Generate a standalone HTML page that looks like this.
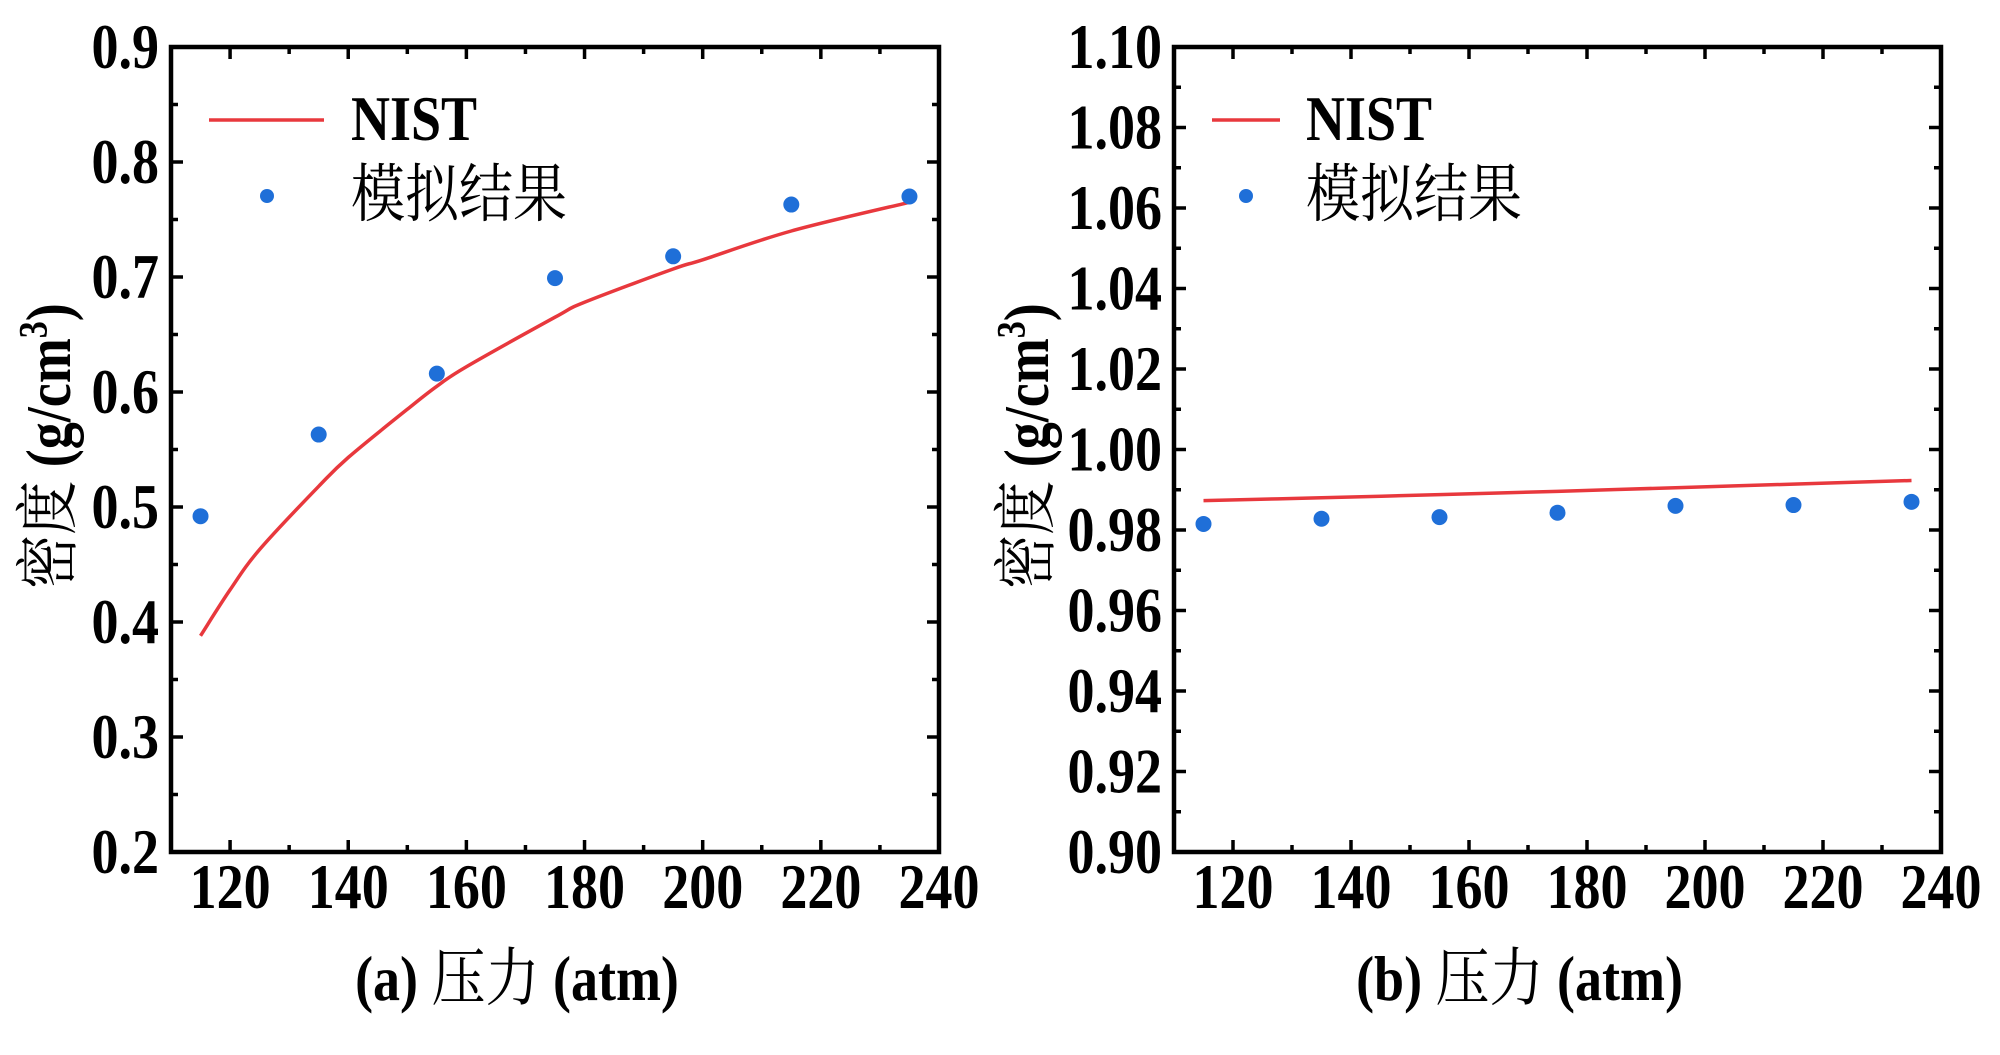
<!DOCTYPE html>
<html><head><meta charset="utf-8"><style>
html,body{margin:0;padding:0;background:#fff;}
svg{display:block;}
.tk{font-family:"Liberation Serif","Noto Serif CJK SC",serif;font-weight:bold;font-size:54px;fill:#000;}
.cj{font-family:"Liberation Serif","Noto Serif CJK SC",serif;font-size:54px;fill:#000;}
</style></head><body>
<svg id="chart" width="2000" height="1055" viewBox="0 0 2000 1055" xmlns="http://www.w3.org/2000/svg"></svg>
<script>
const pressures = [115,135,155,175,195,215,235];
const simA = [0.492,0.563,0.616,0.699,0.718,0.763,0.770];
const nistXA = [115,120,125,135,140,150,155,160,175,180,195,200,215,235];
const nistA = [0.388,0.428,0.463,0.518,0.543,0.585,0.605,0.622,0.665,0.678,0.707,0.715,0.740,0.765];
const simB = [0.9815,0.9828,0.9832,0.9843,0.9860,0.9862,0.9870];
const nistXB = [115,135,155,175,195,215,235];
const nistB = [0.9873,0.9880,0.9888,0.9896,0.9905,0.9914,0.9923];
const xTicks = [120,140,160,180,200,220,240];
const yTicksA = ["0.2","0.3","0.4","0.5","0.6","0.7","0.8","0.9"];
const yTicksB = ["0.90","0.92","0.94","0.96","0.98","1.00","1.02","1.04","1.06","1.08","1.10"];

const NS="http://www.w3.org/2000/svg";
const svg=document.getElementById('chart');
const SY=1.18;
function mk(tag,attrs,parent,text){const e=document.createElementNS(NS,tag);for(const k in attrs)e.setAttribute(k,attrs[k]);if(text!==undefined)e.textContent=text;(parent||svg).appendChild(e);return e;}
function txt(x,y,attrs,parent,text,rot){const a=Object.assign({x:0,y:0,transform:`translate(${x},${y})${rot?' rotate(-90)':''} scale(1,${SY})`},attrs);return mk('text',a,parent,text);}
function smooth(pts){
  let d='M'+pts[0][0].toFixed(1)+' '+pts[0][1].toFixed(1);
  for(let i=0;i<pts.length-1;i++){
    const p0=pts[Math.max(0,i-1)],p1=pts[i],p2=pts[i+1],p3=pts[Math.min(pts.length-1,i+2)];
    const c1=[p1[0]+(p2[0]-p0[0])/6,p1[1]+(p2[1]-p0[1])/6];
    const c2=[p2[0]-(p3[0]-p1[0])/6,p2[1]-(p3[1]-p1[1])/6];
    d+=` C${c1[0].toFixed(1)} ${c1[1].toFixed(1)} ${c2[0].toFixed(1)} ${c2[1].toFixed(1)} ${p2[0].toFixed(1)} ${p2[1].toFixed(1)}`;
  }
  return d;
}

function panel(cfg){
  const g=mk('g',{});
  
  
  const L=cfg.L,R=cfg.R,T=47,B=852;
  const xs=v=>L+(v-110)/(240-110)*(R-L);
  const ys=v=>B-(v-cfg.ymin)/(cfg.ymax-cfg.ymin)*(B-T);
  for(let v=110;v<=240;v+=10){
    const major=(v%20===0);const x=xs(v);const len=major?12:7;
    mk('line',{x1:x,y1:B,x2:x,y2:B-len,stroke:'#000','stroke-width':3.5},g);
    mk('line',{x1:x,y1:T,x2:x,y2:T+len,stroke:'#000','stroke-width':3.5},g);
  }
  const n=cfg.yt.length;
  for(let i=0;i<n;i++){
    const v=parseFloat(cfg.yt[i]);const y=ys(v);
    mk('line',{x1:L,y1:y,x2:L+12,y2:y,stroke:'#000','stroke-width':3.5},g);
    mk('line',{x1:R,y1:y,x2:R-12,y2:y,stroke:'#000','stroke-width':3.5},g);
    const t=txt(L-12,y+21,{'text-anchor':'end',class:'tk'},g,cfg.yt[i]);
    
    
    if(i<n-1){const y2=(y+ys(parseFloat(cfg.yt[i+1])))/2;
      mk('line',{x1:L,y1:y2,x2:L+7,y2:y2,stroke:'#000','stroke-width':3.5},g);
      mk('line',{x1:R,y1:y2,x2:R-7,y2:y2,stroke:'#000','stroke-width':3.5},g);}
  }
  xTicks.forEach(v=>{
    const t=txt(xs(v),908,{'text-anchor':'middle',class:'tk'},g,String(v));
    
    
  });
  const fr=mk('rect',{x:L,y:T,width:R-L,height:B-T,fill:'none',stroke:'#000','stroke-width':4.5},g);
  
  
  const pts=cfg.nx.map((x,i)=>[xs(x),ys(cfg.ny[i])]);
  const ln=mk('path',{d:smooth(pts),fill:'none',stroke:'#e8383d','stroke-width':3.5,'stroke-linejoin':'round'},g);
  
  
  pressures.forEach((p,i)=>{
    const c=mk('circle',{cx:xs(p),cy:ys(cfg.sim[i]),r:8,fill:'#1f6fd8'},g);
    
    
  });
  const lg=mk('g',{},g);
  
  
  mk('line',{x1:cfg.lx1,y1:120,x2:cfg.lx2,y2:120,stroke:'#e8383d','stroke-width':3.5},lg);
  txt(cfg.tx,140,{class:'tk'},lg,'NIST');
  mk('circle',{cx:cfg.dx,cy:196,r:7,fill:'#1f6fd8'},lg);
  txt(cfg.tx,216,{class:'cj'},lg,'模拟结果');
  const xt=txt((L+R)/2-38,1000,{'text-anchor':'middle',class:'tk'},g);
  
  
  mk('tspan',{},xt,cfg.lab+' ');
  mk('tspan',{style:'font-weight:normal'},xt,'压力');
  mk('tspan',{},xt,' (atm)');
  const yt=txt(cfg.ytx,446,{'text-anchor':'middle',class:'tk'},g,undefined,true);
  
  
  mk('tspan',{style:'font-weight:normal'},yt,'密度');
  mk('tspan',{},yt,' (g/cm');
  mk('tspan',{dy:-20,style:'font-size:34px'},yt,'3');
  mk('tspan',{dy:20},yt,')');
}
panel({name:'panel-a',L:171,R:939,ymin:0.2,ymax:0.9,yt:yTicksA,sim:simA,nx:nistXA,ny:nistA,lx1:209,lx2:324,tx:351,dx:267,lab:'(a)',ytx:70});
panel({name:'panel-b',L:1174,R:1941,ymin:0.90,ymax:1.10,yt:yTicksB,sim:simB,nx:nistXB,ny:nistB,lx1:1212,lx2:1280,tx:1306,dx:1246,lab:'(b)',ytx:1048});
</script>
</body></html>
